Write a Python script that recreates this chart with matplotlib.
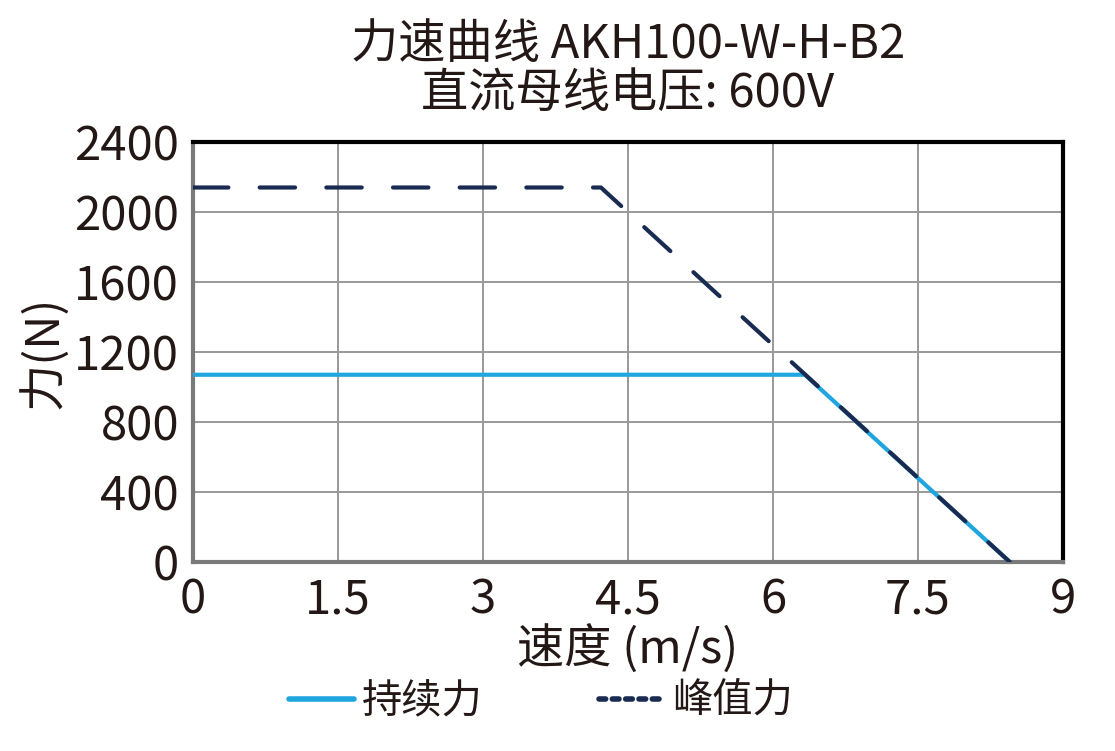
import matplotlib
matplotlib.use("Agg")
import matplotlib.pyplot as plt
from matplotlib.lines import Line2D

plt.rcParams['font.family'] = ['Noto Sans CJK SC', 'DejaVu Sans']

# data
speed_cont = [0, 6.33, 8.45]
force_cont = [1070, 1070, 0]
speed_peak = [0, 4.22, 8.45]
force_peak = [2140, 2140, 0]
x_ticks = [0, 1.5, 3, 4.5, 6, 7.5, 9]
x_tick_labels = ["0", "1.5", "3", "4.5", "6", "7.5", "9"]
y_ticks = [0, 400, 800, 1200, 1600, 2000, 2400]

c_cont = '#1fa6de'
c_peak = '#1a2b52'
fs = 34

fig = plt.figure(figsize=(11.15, 7.51), dpi=100)
ax = fig.add_axes([193 / 1115, 1 - 562 / 751, 870 / 1115, 420 / 751])

ax.plot(speed_cont, force_cont, color=c_cont, lw=3.0, solid_capstyle='butt', zorder=3)
ax.plot(speed_peak, force_peak, color=c_peak, lw=3.0, dashes=(8.5, 7.5),
        dash_capstyle='round', zorder=4)

ax.set_xlim(0, 9)
ax.set_ylim(0, 2400)
ax.set_xticks(x_ticks)
ax.set_xticklabels(x_tick_labels)
ax.set_yticks(y_ticks)
ax.tick_params(length=0, labelsize=fs, colors='#231815')
ax.tick_params(axis='y', pad=10)
ax.tick_params(axis='x', pad=10)
ax.grid(True, color='#999999', lw=1.4)
ax.set_axisbelow(True)

for s in ['top', 'right']:
    ax.spines[s].set_color('black')
    ax.spines[s].set_linewidth(3)
for s in ['left', 'bottom']:
    ax.spines[s].set_color('#7a7a7a')
    ax.spines[s].set_linewidth(3)

ax.set_xlabel('速度 (m/s)', fontsize=fs, color='#231815', labelpad=1)
ax.set_ylabel('力(N)', fontsize=fs, color='#231815', labelpad=4)

fig.text(0.563, 0.908, '力速曲线 AKH100-W-H-B2\n直流母线电压: 600V', ha='center', va='center',
         fontsize=fs, color='#231815', linespacing=1.0)

h_cont = Line2D([], [], color=c_cont, lw=4, solid_capstyle='round')
h_peak = Line2D([], [], color=c_peak, lw=4, dashes=(1.2, 1.2), dash_capstyle='round')
fig.legend([h_cont, h_peak], ['持续力', '峰值力'], loc='center', bbox_to_anchor=(0.485, 0.066),
           ncol=2, frameon=False, fontsize=29, handlelength=1.6, handletextpad=0.2,
           columnspacing=2.9, labelcolor='#231815')

fig.savefig('out.png', dpi=100)
